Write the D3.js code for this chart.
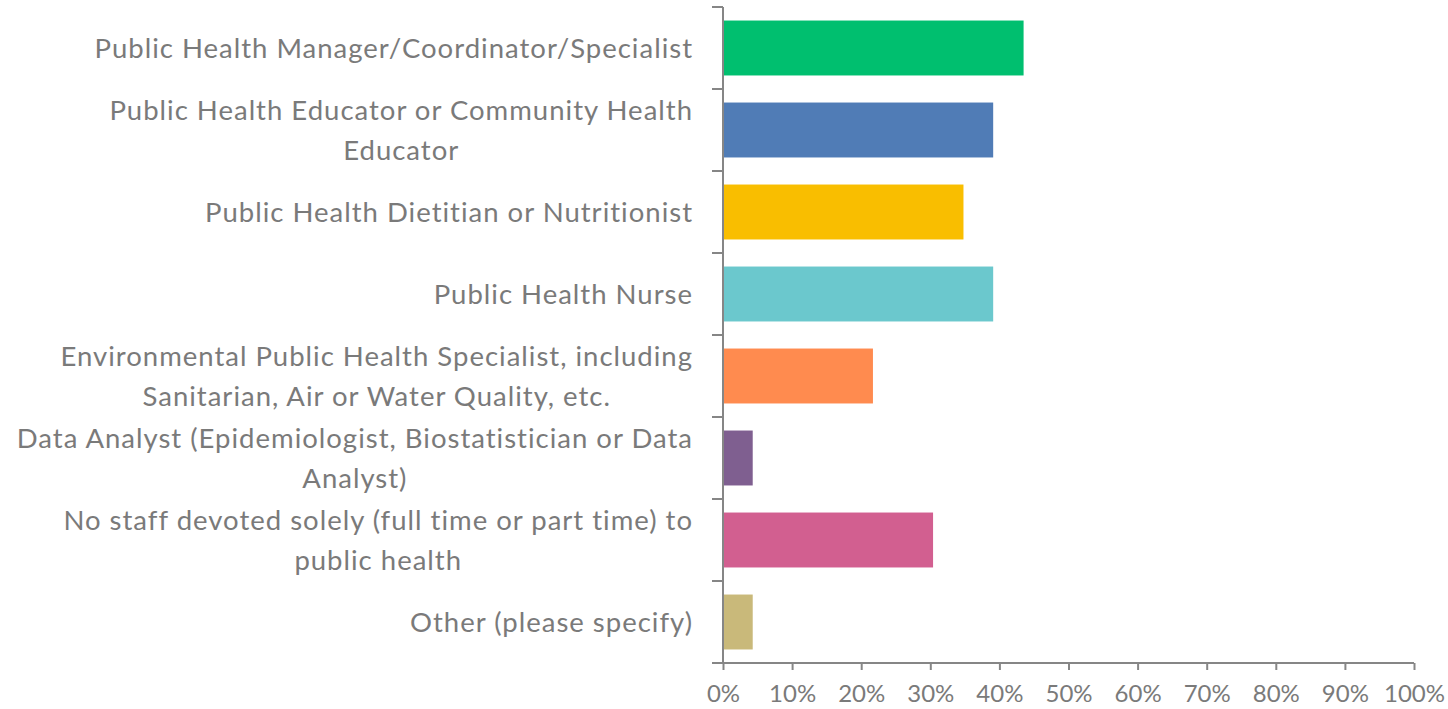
<!DOCTYPE html>
<html><head><meta charset="utf-8">
<script src="https://cdn.jsdelivr.net/npm/d3@7"></script>
<style>body{margin:0;background:#fff;} text{font-family:Lato, "Open Sans", sans-serif;}</style>
</head><body><svg id="c" width="1448" height="709"></svg>
<script>
const categories = [
  ["Public Health Manager/Coordinator/Specialist"],
  ["Public Health Educator or Community Health", "Educator"],
  ["Public Health Dietitian or Nutritionist"],
  ["Public Health Nurse"],
  ["Environmental Public Health Specialist, including", "Sanitarian, Air or Water Quality, etc."],
  ["Data Analyst (Epidemiologist, Biostatistician or Data", "Analyst)"],
  ["No staff devoted solely (full time or part time) to", "public health"],
  ["Other (please specify)"]
];
const values = [0.435, 0.391, 0.348, 0.391, 0.217, 0.043, 0.304, 0.043];
const colors = ["#00BF6F","#507CB6","#F9BE00","#6BC8CD","#FF8B4F","#7F5F90","#D25F90","#C9B97A"];
const tickValues = [0,0.1,0.2,0.3,0.4,0.5,0.6,0.7,0.8,0.9,1.0];

const svg = d3.select("#c");
const mLeft = 723, mRight = 1414, mTop = 7, mBottom = 663;
const x = d3.scaleLinear().domain([0,1]).range([mLeft,mRight]);
const y = d3.scaleBand().domain(d3.range(categories.length)).range([mTop,mBottom]).paddingInner(0.33).paddingOuter(0.165);
const axisColor = "#868686", textColor = "#7a7a7a";

svg.selectAll("rect.bar").data(values).join("rect")
  .attr("x", x(0)).attr("y",(d,i)=>y(i)).attr("width",d=>x(d)-x(0)).attr("height",y.bandwidth())
  .attr("fill",(d,i)=>colors[i]);

const step = (mBottom-mTop)/categories.length;
svg.append("line").attr("x1",mLeft).attr("x2",mLeft).attr("y1",mTop).attr("y2",mBottom).attr("stroke",axisColor).attr("stroke-width",2);
for(let i=0;i<=categories.length;i++){
  const yy = mTop + i*step;
  svg.append("line").attr("x1",mLeft-11).attr("x2",mLeft).attr("y1",yy).attr("y2",yy).attr("stroke",axisColor).attr("stroke-width",2);
}
const xAxis = d3.axisBottom(x).tickValues(tickValues).tickFormat(d3.format(".0%")).tickSize(7).tickSizeOuter(0);
const gx = svg.append("g").attr("transform",`translate(0,${mBottom})`).call(xAxis);
gx.select(".domain").attr("stroke",axisColor).attr("stroke-width",2).attr("d",`M${mLeft-11},0H${mRight}`);
gx.selectAll(".tick line").attr("stroke",axisColor).attr("stroke-width",2);
gx.selectAll(".tick text").attr("fill",textColor).attr("font-size",24).attr("dy","0").attr("y",39).style("font-family","Lato");

const lineH = 40;
categories.forEach((lines,i)=>{
  const cy = mTop + i*step + step/2;
  const n = lines.length;
  lines.forEach((t,j)=>{
    svg.append("text").attr("x",693).attr("y",cy + (j-(n-1)/2)*lineH).attr("dy","0.35em")
      .attr("text-anchor","middle").attr("fill",textColor).attr("font-size",27.5)
      .style("letter-spacing","1px").text(t)
      .attr("class","lbl"+i);
  });
});
categories.forEach((lines,i)=>{
  const nodes = svg.selectAll("text.lbl"+i).nodes();
  const w = d3.max(nodes, n=>n.getComputedTextLength());
  nodes.forEach(n=>n.setAttribute("x", 693 - w/2));
});
</script></body></html>
